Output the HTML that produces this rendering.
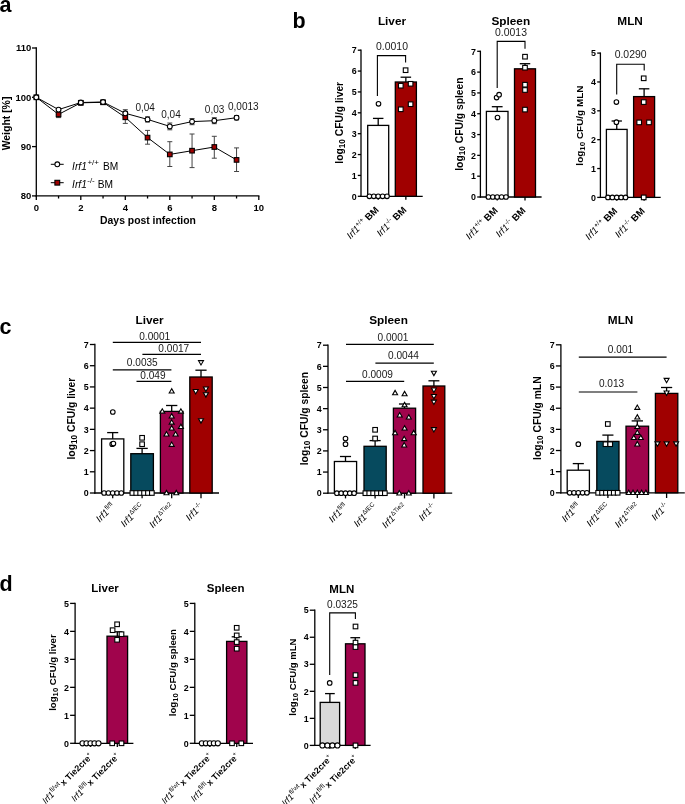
<!DOCTYPE html>
<html><head><meta charset="utf-8"><title>Figure</title>
<style>html,body{margin:0;padding:0;background:#fff;}body{width:685px;height:804px;overflow:hidden;}svg{display:block;will-change:transform;}</style>
</head><body>
<svg width="685" height="804" viewBox="0 0 685 804" font-family='"Liberation Sans", sans-serif'>
<rect width="685" height="804" fill="#fff"/>
<text x="-0.50" y="11.80" font-size="21.5" font-weight="bold" text-anchor="start" fill="#000" >a</text>
<text x="292.50" y="28.40" font-size="21.5" font-weight="bold" text-anchor="start" fill="#000" >b</text>
<text x="-0.50" y="334.10" font-size="21.5" font-weight="bold" text-anchor="start" fill="#000" >c</text>
<text x="-0.50" y="590.80" font-size="21.5" font-weight="bold" text-anchor="start" fill="#000" >d</text>
<line x1="36.30" y1="47.35" x2="36.30" y2="196.55" stroke="#000" stroke-width="1.3"/>
<line x1="35.65" y1="195.90" x2="259.45" y2="195.90" stroke="#000" stroke-width="1.3"/>
<line x1="32.00" y1="48.00" x2="36.30" y2="48.00" stroke="#000" stroke-width="1.3"/>
<text x="31.30" y="51.40" font-size="9.5" font-weight="bold" text-anchor="end" fill="#000" >110</text>
<line x1="32.00" y1="97.30" x2="36.30" y2="97.30" stroke="#000" stroke-width="1.3"/>
<text x="31.30" y="100.70" font-size="9.5" font-weight="bold" text-anchor="end" fill="#000" >100</text>
<line x1="32.00" y1="146.60" x2="36.30" y2="146.60" stroke="#000" stroke-width="1.3"/>
<text x="31.30" y="150.00" font-size="9.5" font-weight="bold" text-anchor="end" fill="#000" >90</text>
<line x1="32.00" y1="195.90" x2="36.30" y2="195.90" stroke="#000" stroke-width="1.3"/>
<text x="31.30" y="199.30" font-size="9.5" font-weight="bold" text-anchor="end" fill="#000" >80</text>
<line x1="36.30" y1="195.90" x2="36.30" y2="199.90" stroke="#000" stroke-width="1.3"/>
<text x="36.30" y="210.80" font-size="9.5" font-weight="bold" text-anchor="middle" fill="#000" >0</text>
<line x1="58.55" y1="195.90" x2="58.55" y2="198.50" stroke="#000" stroke-width="1.3"/>
<line x1="80.80" y1="195.90" x2="80.80" y2="199.90" stroke="#000" stroke-width="1.3"/>
<text x="80.80" y="210.80" font-size="9.5" font-weight="bold" text-anchor="middle" fill="#000" >2</text>
<line x1="103.05" y1="195.90" x2="103.05" y2="198.50" stroke="#000" stroke-width="1.3"/>
<line x1="125.30" y1="195.90" x2="125.30" y2="199.90" stroke="#000" stroke-width="1.3"/>
<text x="125.30" y="210.80" font-size="9.5" font-weight="bold" text-anchor="middle" fill="#000" >4</text>
<line x1="147.55" y1="195.90" x2="147.55" y2="198.50" stroke="#000" stroke-width="1.3"/>
<line x1="169.80" y1="195.90" x2="169.80" y2="199.90" stroke="#000" stroke-width="1.3"/>
<text x="169.80" y="210.80" font-size="9.5" font-weight="bold" text-anchor="middle" fill="#000" >6</text>
<line x1="192.05" y1="195.90" x2="192.05" y2="198.50" stroke="#000" stroke-width="1.3"/>
<line x1="214.30" y1="195.90" x2="214.30" y2="199.90" stroke="#000" stroke-width="1.3"/>
<text x="214.30" y="210.80" font-size="9.5" font-weight="bold" text-anchor="middle" fill="#000" >8</text>
<line x1="236.55" y1="195.90" x2="236.55" y2="198.50" stroke="#000" stroke-width="1.3"/>
<line x1="258.80" y1="195.90" x2="258.80" y2="199.90" stroke="#000" stroke-width="1.3"/>
<text x="258.80" y="210.80" font-size="9.5" font-weight="bold" text-anchor="middle" fill="#000" >10</text>
<text x="148.00" y="223.80" font-size="10.4" font-weight="bold" text-anchor="middle" fill="#000" >Days post infection</text>
<text transform="translate(10.3,123.5) rotate(-90)" font-size="10.45" font-weight="bold" text-anchor="middle">Weight [%]</text>
<line x1="58.55" y1="114.40" x2="58.55" y2="117.60" stroke="#444" stroke-width="1.0"/>
<line x1="56.05" y1="114.40" x2="61.05" y2="114.40" stroke="#444" stroke-width="1.0"/>
<line x1="56.05" y1="117.60" x2="61.05" y2="117.60" stroke="#444" stroke-width="1.0"/>
<line x1="80.80" y1="101.00" x2="80.80" y2="105.00" stroke="#444" stroke-width="1.0"/>
<line x1="78.30" y1="101.00" x2="83.30" y2="101.00" stroke="#444" stroke-width="1.0"/>
<line x1="78.30" y1="105.00" x2="83.30" y2="105.00" stroke="#444" stroke-width="1.0"/>
<line x1="103.05" y1="101.00" x2="103.05" y2="104.50" stroke="#444" stroke-width="1.0"/>
<line x1="100.55" y1="101.00" x2="105.55" y2="101.00" stroke="#444" stroke-width="1.0"/>
<line x1="100.55" y1="104.50" x2="105.55" y2="104.50" stroke="#444" stroke-width="1.0"/>
<line x1="125.30" y1="111.60" x2="125.30" y2="123.40" stroke="#444" stroke-width="1.0"/>
<line x1="122.80" y1="111.60" x2="127.80" y2="111.60" stroke="#444" stroke-width="1.0"/>
<line x1="122.80" y1="123.40" x2="127.80" y2="123.40" stroke="#444" stroke-width="1.0"/>
<line x1="147.55" y1="130.40" x2="147.55" y2="144.20" stroke="#444" stroke-width="1.0"/>
<line x1="145.05" y1="130.40" x2="150.05" y2="130.40" stroke="#444" stroke-width="1.0"/>
<line x1="145.05" y1="144.20" x2="150.05" y2="144.20" stroke="#444" stroke-width="1.0"/>
<line x1="169.80" y1="141.70" x2="169.80" y2="166.50" stroke="#444" stroke-width="1.0"/>
<line x1="167.30" y1="141.70" x2="172.30" y2="141.70" stroke="#444" stroke-width="1.0"/>
<line x1="167.30" y1="166.50" x2="172.30" y2="166.50" stroke="#444" stroke-width="1.0"/>
<line x1="192.05" y1="134.00" x2="192.05" y2="167.60" stroke="#444" stroke-width="1.0"/>
<line x1="189.55" y1="134.00" x2="194.55" y2="134.00" stroke="#444" stroke-width="1.0"/>
<line x1="189.55" y1="167.60" x2="194.55" y2="167.60" stroke="#444" stroke-width="1.0"/>
<line x1="214.30" y1="136.30" x2="214.30" y2="158.20" stroke="#444" stroke-width="1.0"/>
<line x1="211.80" y1="136.30" x2="216.80" y2="136.30" stroke="#444" stroke-width="1.0"/>
<line x1="211.80" y1="158.20" x2="216.80" y2="158.20" stroke="#444" stroke-width="1.0"/>
<line x1="236.55" y1="147.90" x2="236.55" y2="171.50" stroke="#444" stroke-width="1.0"/>
<line x1="234.05" y1="147.90" x2="239.05" y2="147.90" stroke="#444" stroke-width="1.0"/>
<line x1="234.05" y1="171.50" x2="239.05" y2="171.50" stroke="#444" stroke-width="1.0"/>
<line x1="58.55" y1="108.40" x2="58.55" y2="110.80" stroke="#444" stroke-width="1.0"/>
<line x1="56.05" y1="108.40" x2="61.05" y2="108.40" stroke="#444" stroke-width="1.0"/>
<line x1="56.05" y1="110.80" x2="61.05" y2="110.80" stroke="#444" stroke-width="1.0"/>
<line x1="80.80" y1="101.00" x2="80.80" y2="104.00" stroke="#444" stroke-width="1.0"/>
<line x1="78.30" y1="101.00" x2="83.30" y2="101.00" stroke="#444" stroke-width="1.0"/>
<line x1="78.30" y1="104.00" x2="83.30" y2="104.00" stroke="#444" stroke-width="1.0"/>
<line x1="103.05" y1="100.50" x2="103.05" y2="103.50" stroke="#444" stroke-width="1.0"/>
<line x1="100.55" y1="100.50" x2="105.55" y2="100.50" stroke="#444" stroke-width="1.0"/>
<line x1="100.55" y1="103.50" x2="105.55" y2="103.50" stroke="#444" stroke-width="1.0"/>
<line x1="125.30" y1="109.70" x2="125.30" y2="116.90" stroke="#444" stroke-width="1.0"/>
<line x1="122.80" y1="109.70" x2="127.80" y2="109.70" stroke="#444" stroke-width="1.0"/>
<line x1="122.80" y1="116.90" x2="127.80" y2="116.90" stroke="#444" stroke-width="1.0"/>
<line x1="147.55" y1="116.80" x2="147.55" y2="122.00" stroke="#444" stroke-width="1.0"/>
<line x1="145.05" y1="116.80" x2="150.05" y2="116.80" stroke="#444" stroke-width="1.0"/>
<line x1="145.05" y1="122.00" x2="150.05" y2="122.00" stroke="#444" stroke-width="1.0"/>
<line x1="169.80" y1="123.00" x2="169.80" y2="129.80" stroke="#444" stroke-width="1.0"/>
<line x1="167.30" y1="123.00" x2="172.30" y2="123.00" stroke="#444" stroke-width="1.0"/>
<line x1="167.30" y1="129.80" x2="172.30" y2="129.80" stroke="#444" stroke-width="1.0"/>
<line x1="192.05" y1="118.50" x2="192.05" y2="124.70" stroke="#444" stroke-width="1.0"/>
<line x1="189.55" y1="118.50" x2="194.55" y2="118.50" stroke="#444" stroke-width="1.0"/>
<line x1="189.55" y1="124.70" x2="194.55" y2="124.70" stroke="#444" stroke-width="1.0"/>
<line x1="214.30" y1="117.70" x2="214.30" y2="123.70" stroke="#444" stroke-width="1.0"/>
<line x1="211.80" y1="117.70" x2="216.80" y2="117.70" stroke="#444" stroke-width="1.0"/>
<line x1="211.80" y1="123.70" x2="216.80" y2="123.70" stroke="#444" stroke-width="1.0"/>
<line x1="236.55" y1="115.50" x2="236.55" y2="119.90" stroke="#444" stroke-width="1.0"/>
<line x1="234.05" y1="115.50" x2="239.05" y2="115.50" stroke="#444" stroke-width="1.0"/>
<line x1="234.05" y1="119.90" x2="239.05" y2="119.90" stroke="#444" stroke-width="1.0"/>
<polyline points="36.30,97.30 58.55,114.40 80.80,102.80 103.05,102.30 125.30,117.30 147.55,137.60 169.80,154.40 192.05,150.70 214.30,147.00 236.55,159.90" fill="none" stroke="#000" stroke-width="1.0"/>
<polyline points="36.30,97.30 58.55,109.60 80.80,102.50 103.05,102.00 125.30,113.30 147.55,119.40 169.80,126.40 192.05,121.60 214.30,120.70 236.55,117.70" fill="none" stroke="#000" stroke-width="1.0"/>
<rect x="34.00" y="95.00" width="4.6" height="4.6" fill="#a00000" stroke="#000" stroke-width="1.1"/>
<rect x="56.25" y="112.10" width="4.6" height="4.6" fill="#a00000" stroke="#000" stroke-width="1.1"/>
<rect x="78.50" y="100.50" width="4.6" height="4.6" fill="#a00000" stroke="#000" stroke-width="1.1"/>
<rect x="100.75" y="100.00" width="4.6" height="4.6" fill="#a00000" stroke="#000" stroke-width="1.1"/>
<rect x="123.00" y="115.00" width="4.6" height="4.6" fill="#a00000" stroke="#000" stroke-width="1.1"/>
<rect x="145.25" y="135.30" width="4.6" height="4.6" fill="#a00000" stroke="#000" stroke-width="1.1"/>
<rect x="167.50" y="152.10" width="4.6" height="4.6" fill="#a00000" stroke="#000" stroke-width="1.1"/>
<rect x="189.75" y="148.40" width="4.6" height="4.6" fill="#a00000" stroke="#000" stroke-width="1.1"/>
<rect x="212.00" y="144.70" width="4.6" height="4.6" fill="#a00000" stroke="#000" stroke-width="1.1"/>
<rect x="234.25" y="157.60" width="4.6" height="4.6" fill="#a00000" stroke="#000" stroke-width="1.1"/>
<circle cx="36.30" cy="97.30" r="2.4" fill="#fff" stroke="#000" stroke-width="1.1"/>
<circle cx="58.55" cy="109.60" r="2.4" fill="#fff" stroke="#000" stroke-width="1.1"/>
<circle cx="80.80" cy="102.50" r="2.4" fill="#fff" stroke="#000" stroke-width="1.1"/>
<circle cx="103.05" cy="102.00" r="2.4" fill="#fff" stroke="#000" stroke-width="1.1"/>
<circle cx="125.30" cy="113.30" r="2.4" fill="#fff" stroke="#000" stroke-width="1.1"/>
<circle cx="147.55" cy="119.40" r="2.4" fill="#fff" stroke="#000" stroke-width="1.1"/>
<circle cx="169.80" cy="126.40" r="2.4" fill="#fff" stroke="#000" stroke-width="1.1"/>
<circle cx="192.05" cy="121.60" r="2.4" fill="#fff" stroke="#000" stroke-width="1.1"/>
<circle cx="214.30" cy="120.70" r="2.4" fill="#fff" stroke="#000" stroke-width="1.1"/>
<circle cx="236.55" cy="117.70" r="2.4" fill="#fff" stroke="#000" stroke-width="1.1"/>
<text x="145.20" y="110.60" font-size="10.0" font-weight="normal" text-anchor="middle" fill="#181818" >0,04</text>
<text x="171.00" y="118.30" font-size="10.0" font-weight="normal" text-anchor="middle" fill="#181818" >0,04</text>
<text x="214.60" y="112.80" font-size="10.0" font-weight="normal" text-anchor="middle" fill="#181818" >0,03</text>
<text x="243.30" y="110.00" font-size="10.0" font-weight="normal" text-anchor="middle" fill="#181818" >0,0013</text>
<line x1="50.80" y1="164.30" x2="63.70" y2="164.30" stroke="#000" stroke-width="1.0"/>
<circle cx="57.30" cy="164.30" r="2.4" fill="#fff" stroke="#000" stroke-width="1.1"/>
<line x1="50.80" y1="182.70" x2="63.70" y2="182.70" stroke="#000" stroke-width="1.0"/>
<rect x="54.90" y="180.30" width="4.8" height="4.8" fill="#a00000" stroke="#000" stroke-width="1.1"/>
<text x="72.1" y="169.6" font-size="10.2" fill="#000"><tspan font-style="italic">Irf1</tspan><tspan font-size="8" dy="-4.3" dx="0.6">+/+</tspan><tspan dy="4.3" dx="1.1"> BM</tspan></text>
<text x="72.1" y="187.7" font-size="10.2" fill="#000"><tspan font-style="italic">Irf1</tspan><tspan font-size="8" dy="-4.3" dx="0.4">-/-</tspan><tspan dy="4.3" dx="0.2"> BM</tspan></text>
<line x1="361.00" y1="49.55" x2="361.00" y2="196.95" stroke="#000" stroke-width="1.3"/>
<line x1="357.80" y1="196.30" x2="361.00" y2="196.30" stroke="#000" stroke-width="1.3"/>
<text x="356.60" y="199.50" font-size="8.9" font-weight="bold" text-anchor="end" fill="#000" >0</text>
<line x1="357.80" y1="175.43" x2="361.00" y2="175.43" stroke="#000" stroke-width="1.3"/>
<text x="356.60" y="178.63" font-size="8.9" font-weight="bold" text-anchor="end" fill="#000" >1</text>
<line x1="357.80" y1="154.56" x2="361.00" y2="154.56" stroke="#000" stroke-width="1.3"/>
<text x="356.60" y="157.76" font-size="8.9" font-weight="bold" text-anchor="end" fill="#000" >2</text>
<line x1="357.80" y1="133.69" x2="361.00" y2="133.69" stroke="#000" stroke-width="1.3"/>
<text x="356.60" y="136.89" font-size="8.9" font-weight="bold" text-anchor="end" fill="#000" >3</text>
<line x1="357.80" y1="112.81" x2="361.00" y2="112.81" stroke="#000" stroke-width="1.3"/>
<text x="356.60" y="116.02" font-size="8.9" font-weight="bold" text-anchor="end" fill="#000" >4</text>
<line x1="357.80" y1="91.94" x2="361.00" y2="91.94" stroke="#000" stroke-width="1.3"/>
<text x="356.60" y="95.15" font-size="8.9" font-weight="bold" text-anchor="end" fill="#000" >5</text>
<line x1="357.80" y1="71.07" x2="361.00" y2="71.07" stroke="#000" stroke-width="1.3"/>
<text x="356.60" y="74.28" font-size="8.9" font-weight="bold" text-anchor="end" fill="#000" >6</text>
<line x1="357.80" y1="50.20" x2="361.00" y2="50.20" stroke="#000" stroke-width="1.3"/>
<text x="356.60" y="53.40" font-size="8.9" font-weight="bold" text-anchor="end" fill="#000" >7</text>
<line x1="360.35" y1="196.30" x2="422.70" y2="196.30" stroke="#000" stroke-width="1.3"/>
<line x1="378.20" y1="118.40" x2="378.20" y2="125.40" stroke="#000" stroke-width="1.3"/>
<line x1="372.95" y1="118.40" x2="383.45" y2="118.40" stroke="#000" stroke-width="1.3"/>
<rect x="367.70" y="125.40" width="21.00" height="70.90" fill="#fff" stroke="#000" stroke-width="1.3"/>
<line x1="378.20" y1="196.30" x2="378.20" y2="199.70" stroke="#000" stroke-width="1.3"/>
<line x1="405.85" y1="196.30" x2="405.85" y2="199.70" stroke="#000" stroke-width="1.3"/>
<line x1="405.85" y1="77.20" x2="405.85" y2="82.00" stroke="#000" stroke-width="1.3"/>
<line x1="400.58" y1="77.20" x2="411.12" y2="77.20" stroke="#000" stroke-width="1.3"/>
<rect x="395.30" y="82.00" width="21.10" height="114.30" fill="#a00000" stroke="#000" stroke-width="1.3"/>
<circle cx="378.50" cy="103.80" r="2.3" fill="#fff" stroke="#000" stroke-width="1.1"/>
<circle cx="369.40" cy="196.30" r="2.3" fill="#fff" stroke="#000" stroke-width="1.1"/>
<circle cx="373.80" cy="196.30" r="2.3" fill="#fff" stroke="#000" stroke-width="1.1"/>
<circle cx="378.20" cy="196.30" r="2.3" fill="#fff" stroke="#000" stroke-width="1.1"/>
<circle cx="382.60" cy="196.30" r="2.3" fill="#fff" stroke="#000" stroke-width="1.1"/>
<circle cx="387.00" cy="196.30" r="2.3" fill="#fff" stroke="#000" stroke-width="1.1"/>
<rect x="403.30" y="67.90" width="4.6" height="4.6" fill="#fff" stroke="#000" stroke-width="1.1"/>
<rect x="398.50" y="83.40" width="4.6" height="4.6" fill="#fff" stroke="#000" stroke-width="1.1"/>
<rect x="408.30" y="81.50" width="4.6" height="4.6" fill="#fff" stroke="#000" stroke-width="1.1"/>
<rect x="408.30" y="101.90" width="4.6" height="4.6" fill="#fff" stroke="#000" stroke-width="1.1"/>
<rect x="398.50" y="107.00" width="4.6" height="4.6" fill="#fff" stroke="#000" stroke-width="1.1"/>
<polyline points="377.40,95.90 377.40,55.60 405.60,55.60 405.60,62.60" fill="none" stroke="#000" stroke-width="1.1"/>
<text x="392.00" y="49.50" font-size="10.45" font-weight="normal" text-anchor="middle" fill="#181818" >0.0010</text>
<text x="392.00" y="24.80" font-size="11.8" font-weight="bold" text-anchor="middle" fill="#000" >Liver</text>
<text transform="translate(342.60,122.80) rotate(-90)" font-size="10.3" font-weight="bold" text-anchor="middle">log<tspan font-size="80%" dy="2.0">10</tspan><tspan dy="-2.0"> CFU/g liver</tspan></text>
<text transform="translate(379.40,210.50) rotate(-45)" font-size="9.6" text-anchor="end"><tspan font-style="italic">Irf1</tspan><tspan font-size="6.5" dy="-3.8">+/+</tspan><tspan dy="3.8" font-weight="bold"> BM</tspan></text>
<text transform="translate(407.05,210.50) rotate(-45)" font-size="9.6" text-anchor="end"><tspan font-style="italic">Irf1</tspan><tspan font-size="6.5" dy="-3.8">-/-</tspan><tspan dy="3.8" font-weight="bold"> BM</tspan></text>
<line x1="480.40" y1="50.65" x2="480.40" y2="197.65" stroke="#000" stroke-width="1.3"/>
<line x1="477.20" y1="197.00" x2="480.40" y2="197.00" stroke="#000" stroke-width="1.3"/>
<text x="476.00" y="200.20" font-size="8.9" font-weight="bold" text-anchor="end" fill="#000" >0</text>
<line x1="477.20" y1="176.19" x2="480.40" y2="176.19" stroke="#000" stroke-width="1.3"/>
<text x="476.00" y="179.39" font-size="8.9" font-weight="bold" text-anchor="end" fill="#000" >1</text>
<line x1="477.20" y1="155.37" x2="480.40" y2="155.37" stroke="#000" stroke-width="1.3"/>
<text x="476.00" y="158.58" font-size="8.9" font-weight="bold" text-anchor="end" fill="#000" >2</text>
<line x1="477.20" y1="134.56" x2="480.40" y2="134.56" stroke="#000" stroke-width="1.3"/>
<text x="476.00" y="137.76" font-size="8.9" font-weight="bold" text-anchor="end" fill="#000" >3</text>
<line x1="477.20" y1="113.74" x2="480.40" y2="113.74" stroke="#000" stroke-width="1.3"/>
<text x="476.00" y="116.95" font-size="8.9" font-weight="bold" text-anchor="end" fill="#000" >4</text>
<line x1="477.20" y1="92.93" x2="480.40" y2="92.93" stroke="#000" stroke-width="1.3"/>
<text x="476.00" y="96.13" font-size="8.9" font-weight="bold" text-anchor="end" fill="#000" >5</text>
<line x1="477.20" y1="72.11" x2="480.40" y2="72.11" stroke="#000" stroke-width="1.3"/>
<text x="476.00" y="75.32" font-size="8.9" font-weight="bold" text-anchor="end" fill="#000" >6</text>
<line x1="477.20" y1="51.30" x2="480.40" y2="51.30" stroke="#000" stroke-width="1.3"/>
<text x="476.00" y="54.50" font-size="8.9" font-weight="bold" text-anchor="end" fill="#000" >7</text>
<line x1="479.75" y1="197.00" x2="541.60" y2="197.00" stroke="#000" stroke-width="1.3"/>
<line x1="497.20" y1="106.70" x2="497.20" y2="111.40" stroke="#000" stroke-width="1.3"/>
<line x1="491.80" y1="106.70" x2="502.60" y2="106.70" stroke="#000" stroke-width="1.3"/>
<rect x="486.40" y="111.40" width="21.60" height="85.60" fill="#fff" stroke="#000" stroke-width="1.3"/>
<line x1="497.20" y1="197.00" x2="497.20" y2="200.40" stroke="#000" stroke-width="1.3"/>
<line x1="525.00" y1="197.00" x2="525.00" y2="200.40" stroke="#000" stroke-width="1.3"/>
<line x1="525.00" y1="63.70" x2="525.00" y2="68.80" stroke="#000" stroke-width="1.3"/>
<line x1="519.75" y1="63.70" x2="530.25" y2="63.70" stroke="#000" stroke-width="1.3"/>
<rect x="514.50" y="68.80" width="21.00" height="128.20" fill="#a00000" stroke="#000" stroke-width="1.3"/>
<circle cx="497.50" cy="117.50" r="2.3" fill="#fff" stroke="#000" stroke-width="1.1"/>
<circle cx="496.60" cy="97.60" r="2.3" fill="#fff" stroke="#000" stroke-width="1.1"/>
<circle cx="499.10" cy="94.70" r="2.3" fill="#fff" stroke="#000" stroke-width="1.1"/>
<circle cx="488.40" cy="197.00" r="2.3" fill="#fff" stroke="#000" stroke-width="1.1"/>
<circle cx="492.80" cy="197.00" r="2.3" fill="#fff" stroke="#000" stroke-width="1.1"/>
<circle cx="497.20" cy="197.00" r="2.3" fill="#fff" stroke="#000" stroke-width="1.1"/>
<circle cx="501.60" cy="197.00" r="2.3" fill="#fff" stroke="#000" stroke-width="1.1"/>
<circle cx="506.00" cy="197.00" r="2.3" fill="#fff" stroke="#000" stroke-width="1.1"/>
<rect x="522.70" y="54.40" width="4.6" height="4.6" fill="#fff" stroke="#000" stroke-width="1.1"/>
<rect x="522.70" y="65.40" width="4.6" height="4.6" fill="#fff" stroke="#000" stroke-width="1.1"/>
<rect x="522.70" y="82.40" width="4.6" height="4.6" fill="#fff" stroke="#000" stroke-width="1.1"/>
<rect x="522.70" y="87.70" width="4.6" height="4.6" fill="#fff" stroke="#000" stroke-width="1.1"/>
<rect x="522.70" y="107.30" width="4.6" height="4.6" fill="#fff" stroke="#000" stroke-width="1.1"/>
<polyline points="497.20,88.00 497.20,41.40 525.00,41.40 525.00,48.70" fill="none" stroke="#000" stroke-width="1.1"/>
<text x="511.00" y="36.00" font-size="10.45" font-weight="normal" text-anchor="middle" fill="#181818" >0.0013</text>
<text x="510.80" y="24.60" font-size="11.8" font-weight="bold" text-anchor="middle" fill="#000" >Spleen</text>
<text transform="translate(462.80,124.10) rotate(-90)" font-size="10.3" font-weight="bold" text-anchor="middle">log<tspan font-size="80%" dy="2.0">10</tspan><tspan dy="-2.0"> CFU/g spleen</tspan></text>
<text transform="translate(498.40,211.20) rotate(-45)" font-size="9.6" text-anchor="end"><tspan font-style="italic">Irf1</tspan><tspan font-size="6.5" dy="-3.8">+/+</tspan><tspan dy="3.8" font-weight="bold"> BM</tspan></text>
<text transform="translate(526.20,211.20) rotate(-45)" font-size="9.6" text-anchor="end"><tspan font-style="italic">Irf1</tspan><tspan font-size="6.5" dy="-3.8">-/-</tspan><tspan dy="3.8" font-weight="bold"> BM</tspan></text>
<line x1="600.40" y1="52.45" x2="600.40" y2="198.05" stroke="#000" stroke-width="1.3"/>
<line x1="597.20" y1="197.40" x2="600.40" y2="197.40" stroke="#000" stroke-width="1.3"/>
<text x="596.00" y="200.60" font-size="8.9" font-weight="bold" text-anchor="end" fill="#000" >0</text>
<line x1="597.20" y1="168.54" x2="600.40" y2="168.54" stroke="#000" stroke-width="1.3"/>
<text x="596.00" y="171.74" font-size="8.9" font-weight="bold" text-anchor="end" fill="#000" >1</text>
<line x1="597.20" y1="139.68" x2="600.40" y2="139.68" stroke="#000" stroke-width="1.3"/>
<text x="596.00" y="142.88" font-size="8.9" font-weight="bold" text-anchor="end" fill="#000" >2</text>
<line x1="597.20" y1="110.82" x2="600.40" y2="110.82" stroke="#000" stroke-width="1.3"/>
<text x="596.00" y="114.02" font-size="8.9" font-weight="bold" text-anchor="end" fill="#000" >3</text>
<line x1="597.20" y1="81.96" x2="600.40" y2="81.96" stroke="#000" stroke-width="1.3"/>
<text x="596.00" y="85.16" font-size="8.9" font-weight="bold" text-anchor="end" fill="#000" >4</text>
<line x1="597.20" y1="53.10" x2="600.40" y2="53.10" stroke="#000" stroke-width="1.3"/>
<text x="596.00" y="56.30" font-size="8.9" font-weight="bold" text-anchor="end" fill="#000" >5</text>
<line x1="599.75" y1="197.40" x2="660.70" y2="197.40" stroke="#000" stroke-width="1.3"/>
<line x1="616.75" y1="121.00" x2="616.75" y2="129.40" stroke="#000" stroke-width="1.3"/>
<line x1="611.58" y1="121.00" x2="621.92" y2="121.00" stroke="#000" stroke-width="1.3"/>
<rect x="606.40" y="129.40" width="20.70" height="68.00" fill="#fff" stroke="#000" stroke-width="1.3"/>
<line x1="616.75" y1="197.40" x2="616.75" y2="200.80" stroke="#000" stroke-width="1.3"/>
<line x1="644.10" y1="197.40" x2="644.10" y2="200.80" stroke="#000" stroke-width="1.3"/>
<line x1="644.10" y1="88.80" x2="644.10" y2="96.60" stroke="#000" stroke-width="1.3"/>
<line x1="638.85" y1="88.80" x2="649.35" y2="88.80" stroke="#000" stroke-width="1.3"/>
<rect x="633.60" y="96.60" width="21.00" height="100.80" fill="#a00000" stroke="#000" stroke-width="1.3"/>
<circle cx="616.40" cy="102.10" r="2.3" fill="#fff" stroke="#000" stroke-width="1.1"/>
<circle cx="616.40" cy="122.20" r="2.3" fill="#fff" stroke="#000" stroke-width="1.1"/>
<circle cx="607.95" cy="197.40" r="2.3" fill="#fff" stroke="#000" stroke-width="1.1"/>
<circle cx="612.35" cy="197.40" r="2.3" fill="#fff" stroke="#000" stroke-width="1.1"/>
<circle cx="616.75" cy="197.40" r="2.3" fill="#fff" stroke="#000" stroke-width="1.1"/>
<circle cx="621.15" cy="197.40" r="2.3" fill="#fff" stroke="#000" stroke-width="1.1"/>
<circle cx="625.55" cy="197.40" r="2.3" fill="#fff" stroke="#000" stroke-width="1.1"/>
<rect x="641.40" y="76.00" width="4.6" height="4.6" fill="#fff" stroke="#000" stroke-width="1.1"/>
<rect x="641.40" y="99.80" width="4.6" height="4.6" fill="#fff" stroke="#000" stroke-width="1.1"/>
<rect x="636.90" y="120.10" width="4.6" height="4.6" fill="#fff" stroke="#000" stroke-width="1.1"/>
<rect x="646.70" y="120.10" width="4.6" height="4.6" fill="#fff" stroke="#000" stroke-width="1.1"/>
<rect x="641.40" y="195.10" width="4.6" height="4.6" fill="#fff" stroke="#000" stroke-width="1.1"/>
<polyline points="616.70,94.40 616.70,64.30 644.20,64.30 644.20,70.60" fill="none" stroke="#000" stroke-width="1.1"/>
<text x="630.60" y="58.20" font-size="10.45" font-weight="normal" text-anchor="middle" fill="#181818" >0.0290</text>
<text x="630.10" y="24.90" font-size="11.8" font-weight="bold" text-anchor="middle" fill="#000" >MLN</text>
<text transform="translate(583.20,125.60) rotate(-90)" font-size="9.95" font-weight="bold" text-anchor="middle">log<tspan font-size="80%" dy="2.0">10</tspan><tspan dy="-2.0"> CFU/g MLN</tspan></text>
<text transform="translate(617.95,211.60) rotate(-45)" font-size="9.6" text-anchor="end"><tspan font-style="italic">Irf1</tspan><tspan font-size="6.5" dy="-3.8">+/+</tspan><tspan dy="3.8" font-weight="bold"> BM</tspan></text>
<text transform="translate(645.30,211.60) rotate(-45)" font-size="9.6" text-anchor="end"><tspan font-style="italic">Irf1</tspan><tspan font-size="6.5" dy="-3.8">-/-</tspan><tspan dy="3.8" font-weight="bold"> BM</tspan></text>
<line x1="94.90" y1="343.85" x2="94.90" y2="493.65" stroke="#000" stroke-width="1.3"/>
<line x1="89.90" y1="493.00" x2="94.90" y2="493.00" stroke="#000" stroke-width="1.3"/>
<text x="88.70" y="496.20" font-size="8.9" font-weight="bold" text-anchor="end" fill="#000" >0</text>
<line x1="89.90" y1="471.79" x2="94.90" y2="471.79" stroke="#000" stroke-width="1.3"/>
<text x="88.70" y="474.99" font-size="8.9" font-weight="bold" text-anchor="end" fill="#000" >1</text>
<line x1="89.90" y1="450.57" x2="94.90" y2="450.57" stroke="#000" stroke-width="1.3"/>
<text x="88.70" y="453.78" font-size="8.9" font-weight="bold" text-anchor="end" fill="#000" >2</text>
<line x1="89.90" y1="429.36" x2="94.90" y2="429.36" stroke="#000" stroke-width="1.3"/>
<text x="88.70" y="432.56" font-size="8.9" font-weight="bold" text-anchor="end" fill="#000" >3</text>
<line x1="89.90" y1="408.14" x2="94.90" y2="408.14" stroke="#000" stroke-width="1.3"/>
<text x="88.70" y="411.35" font-size="8.9" font-weight="bold" text-anchor="end" fill="#000" >4</text>
<line x1="89.90" y1="386.93" x2="94.90" y2="386.93" stroke="#000" stroke-width="1.3"/>
<text x="88.70" y="390.13" font-size="8.9" font-weight="bold" text-anchor="end" fill="#000" >5</text>
<line x1="89.90" y1="365.71" x2="94.90" y2="365.71" stroke="#000" stroke-width="1.3"/>
<text x="88.70" y="368.92" font-size="8.9" font-weight="bold" text-anchor="end" fill="#000" >6</text>
<line x1="89.90" y1="344.50" x2="94.90" y2="344.50" stroke="#000" stroke-width="1.3"/>
<text x="88.70" y="347.70" font-size="8.9" font-weight="bold" text-anchor="end" fill="#000" >7</text>
<line x1="94.25" y1="493.00" x2="219.00" y2="493.00" stroke="#000" stroke-width="1.3"/>
<line x1="112.70" y1="493.00" x2="112.70" y2="498.20" stroke="#000" stroke-width="1.3"/>
<line x1="142.10" y1="493.00" x2="142.10" y2="498.20" stroke="#000" stroke-width="1.3"/>
<line x1="171.70" y1="493.00" x2="171.70" y2="498.20" stroke="#000" stroke-width="1.3"/>
<line x1="201.00" y1="493.00" x2="201.00" y2="498.20" stroke="#000" stroke-width="1.3"/>
<line x1="112.70" y1="432.60" x2="112.70" y2="438.90" stroke="#000" stroke-width="1.3"/>
<line x1="107.15" y1="432.60" x2="118.25" y2="432.60" stroke="#000" stroke-width="1.3"/>
<rect x="101.60" y="438.90" width="22.20" height="54.10" fill="#fff" stroke="#000" stroke-width="1.3"/>
<line x1="142.10" y1="448.40" x2="142.10" y2="453.70" stroke="#000" stroke-width="1.3"/>
<line x1="136.45" y1="448.40" x2="147.75" y2="448.40" stroke="#000" stroke-width="1.3"/>
<rect x="130.80" y="453.70" width="22.60" height="39.30" fill="#064a5e" stroke="#000" stroke-width="1.3"/>
<line x1="171.70" y1="405.50" x2="171.70" y2="411.40" stroke="#000" stroke-width="1.3"/>
<line x1="166.05" y1="405.50" x2="177.35" y2="405.50" stroke="#000" stroke-width="1.3"/>
<rect x="160.40" y="411.40" width="22.60" height="81.60" fill="#a0044c" stroke="#000" stroke-width="1.3"/>
<line x1="201.00" y1="370.20" x2="201.00" y2="377.00" stroke="#000" stroke-width="1.3"/>
<line x1="195.40" y1="370.20" x2="206.60" y2="370.20" stroke="#000" stroke-width="1.3"/>
<rect x="189.80" y="377.00" width="22.40" height="116.00" fill="#a00000" stroke="#000" stroke-width="1.3"/>
<circle cx="112.80" cy="412.00" r="2.3" fill="#fff" stroke="#000" stroke-width="1.1"/>
<circle cx="112.20" cy="444.20" r="2.3" fill="#fff" stroke="#000" stroke-width="1.1"/>
<circle cx="113.40" cy="443.50" r="2.3" fill="#fff" stroke="#000" stroke-width="1.1"/>
<circle cx="104.10" cy="493.00" r="2.3" fill="#fff" stroke="#000" stroke-width="1.1"/>
<circle cx="108.40" cy="493.00" r="2.3" fill="#fff" stroke="#000" stroke-width="1.1"/>
<circle cx="112.70" cy="493.00" r="2.3" fill="#fff" stroke="#000" stroke-width="1.1"/>
<circle cx="117.00" cy="493.00" r="2.3" fill="#fff" stroke="#000" stroke-width="1.1"/>
<circle cx="121.30" cy="493.00" r="2.3" fill="#fff" stroke="#000" stroke-width="1.1"/>
<rect x="139.80" y="435.50" width="4.6" height="4.6" fill="#fff" stroke="#000" stroke-width="1.1"/>
<rect x="139.80" y="441.90" width="4.6" height="4.6" fill="#fff" stroke="#000" stroke-width="1.1"/>
<rect x="130.05" y="490.70" width="4.6" height="4.6" fill="#fff" stroke="#000" stroke-width="1.1"/>
<rect x="133.95" y="490.70" width="4.6" height="4.6" fill="#fff" stroke="#000" stroke-width="1.1"/>
<rect x="137.85" y="490.70" width="4.6" height="4.6" fill="#fff" stroke="#000" stroke-width="1.1"/>
<rect x="141.75" y="490.70" width="4.6" height="4.6" fill="#fff" stroke="#000" stroke-width="1.1"/>
<rect x="145.65" y="490.70" width="4.6" height="4.6" fill="#fff" stroke="#000" stroke-width="1.1"/>
<rect x="149.55" y="490.70" width="4.6" height="4.6" fill="#fff" stroke="#000" stroke-width="1.1"/>
<polygon points="171.70,388.69 169.20,393.04 174.20,393.04" fill="#fff" stroke="#000" stroke-width="1.1" stroke-linejoin="miter"/>
<polygon points="162.30,408.79 159.80,413.14 164.80,413.14" fill="#fff" stroke="#000" stroke-width="1.1" stroke-linejoin="miter"/>
<polygon points="180.90,408.79 178.40,413.14 183.40,413.14" fill="#fff" stroke="#000" stroke-width="1.1" stroke-linejoin="miter"/>
<polygon points="171.70,413.69 169.20,418.04 174.20,418.04" fill="#fff" stroke="#000" stroke-width="1.1" stroke-linejoin="miter"/>
<polygon points="171.70,419.79 169.20,424.14 174.20,424.14" fill="#fff" stroke="#000" stroke-width="1.1" stroke-linejoin="miter"/>
<polygon points="171.70,425.69 169.20,430.04 174.20,430.04" fill="#fff" stroke="#000" stroke-width="1.1" stroke-linejoin="miter"/>
<polygon points="180.90,424.19 178.40,428.54 183.40,428.54" fill="#fff" stroke="#000" stroke-width="1.1" stroke-linejoin="miter"/>
<polygon points="166.50,431.59 164.00,435.94 169.00,435.94" fill="#fff" stroke="#000" stroke-width="1.1" stroke-linejoin="miter"/>
<polygon points="175.60,431.59 173.10,435.94 178.10,435.94" fill="#fff" stroke="#000" stroke-width="1.1" stroke-linejoin="miter"/>
<polygon points="171.70,441.99 169.20,446.34 174.20,446.34" fill="#fff" stroke="#000" stroke-width="1.1" stroke-linejoin="miter"/>
<polygon points="166.50,490.39 164.00,494.74 169.00,494.74" fill="#fff" stroke="#000" stroke-width="1.1" stroke-linejoin="miter"/>
<polygon points="176.30,490.39 173.80,494.74 178.80,494.74" fill="#fff" stroke="#000" stroke-width="1.1" stroke-linejoin="miter"/>
<polygon points="201.00,365.01 198.50,360.66 203.50,360.66" fill="#fff" stroke="#000" stroke-width="1.1" stroke-linejoin="miter"/>
<polygon points="195.70,393.91 193.20,389.56 198.20,389.56" fill="#fff" stroke="#000" stroke-width="1.1" stroke-linejoin="miter"/>
<polygon points="205.90,391.41 203.40,387.06 208.40,387.06" fill="#fff" stroke="#000" stroke-width="1.1" stroke-linejoin="miter"/>
<polygon points="205.90,397.11 203.40,392.76 208.40,392.76" fill="#fff" stroke="#000" stroke-width="1.1" stroke-linejoin="miter"/>
<polygon points="201.00,423.11 198.50,418.76 203.50,418.76" fill="#fff" stroke="#000" stroke-width="1.1" stroke-linejoin="miter"/>
<line x1="112.80" y1="342.30" x2="201.00" y2="342.30" stroke="#000" stroke-width="1.2"/>
<text x="154.70" y="339.50" font-size="10.1" font-weight="normal" text-anchor="middle" fill="#181818" >0.0001</text>
<line x1="142.40" y1="354.30" x2="201.00" y2="354.30" stroke="#000" stroke-width="1.2"/>
<text x="173.80" y="352.20" font-size="10.1" font-weight="normal" text-anchor="middle" fill="#181818" >0.0017</text>
<line x1="112.80" y1="369.80" x2="171.40" y2="369.80" stroke="#000" stroke-width="1.2"/>
<text x="142.30" y="366.00" font-size="10.1" font-weight="normal" text-anchor="middle" fill="#181818" >0.0035</text>
<line x1="136.50" y1="381.40" x2="171.40" y2="381.40" stroke="#000" stroke-width="1.2"/>
<text x="152.90" y="379.30" font-size="10.1" font-weight="normal" text-anchor="middle" fill="#181818" >0.049</text>
<text x="149.60" y="323.80" font-size="11.8" font-weight="bold" text-anchor="middle" fill="#000" >Liver</text>
<text transform="translate(75.40,418.60) rotate(-90)" font-size="10.3" font-weight="bold" text-anchor="middle">log<tspan font-size="80%" dy="2.0">10</tspan><tspan dy="-2.0"> CFU/g liver</tspan></text>
<text transform="translate(115.30,507.20) rotate(-45)" font-size="9.6" text-anchor="end"><tspan font-style="italic">Irf1</tspan><tspan font-size="6.3" dy="-3.8">fl/fl</tspan></text>
<text transform="translate(144.70,507.20) rotate(-45)" font-size="9.6" text-anchor="end"><tspan font-style="italic">Irf1</tspan><tspan font-size="6.3" dy="-3.8">&#916;IEC</tspan></text>
<text transform="translate(174.30,507.20) rotate(-45)" font-size="9.6" text-anchor="end"><tspan font-style="italic">Irf1</tspan><tspan font-size="6.3" dy="-3.8">&#916;Tie2</tspan></text>
<text transform="translate(203.60,507.20) rotate(-45)" font-size="9.6" text-anchor="end"><tspan font-style="italic">Irf1</tspan><tspan font-size="6.3" dy="-3.8">-/-</tspan></text>
<line x1="328.00" y1="344.55" x2="328.00" y2="493.85" stroke="#000" stroke-width="1.3"/>
<line x1="323.00" y1="493.20" x2="328.00" y2="493.20" stroke="#000" stroke-width="1.3"/>
<text x="321.80" y="496.40" font-size="8.9" font-weight="bold" text-anchor="end" fill="#000" >0</text>
<line x1="323.00" y1="472.06" x2="328.00" y2="472.06" stroke="#000" stroke-width="1.3"/>
<text x="321.80" y="475.26" font-size="8.9" font-weight="bold" text-anchor="end" fill="#000" >1</text>
<line x1="323.00" y1="450.91" x2="328.00" y2="450.91" stroke="#000" stroke-width="1.3"/>
<text x="321.80" y="454.12" font-size="8.9" font-weight="bold" text-anchor="end" fill="#000" >2</text>
<line x1="323.00" y1="429.77" x2="328.00" y2="429.77" stroke="#000" stroke-width="1.3"/>
<text x="321.80" y="432.98" font-size="8.9" font-weight="bold" text-anchor="end" fill="#000" >3</text>
<line x1="323.00" y1="408.63" x2="328.00" y2="408.63" stroke="#000" stroke-width="1.3"/>
<text x="321.80" y="411.83" font-size="8.9" font-weight="bold" text-anchor="end" fill="#000" >4</text>
<line x1="323.00" y1="387.49" x2="328.00" y2="387.49" stroke="#000" stroke-width="1.3"/>
<text x="321.80" y="390.69" font-size="8.9" font-weight="bold" text-anchor="end" fill="#000" >5</text>
<line x1="323.00" y1="366.34" x2="328.00" y2="366.34" stroke="#000" stroke-width="1.3"/>
<text x="321.80" y="369.55" font-size="8.9" font-weight="bold" text-anchor="end" fill="#000" >6</text>
<line x1="323.00" y1="345.20" x2="328.00" y2="345.20" stroke="#000" stroke-width="1.3"/>
<text x="321.80" y="348.40" font-size="8.9" font-weight="bold" text-anchor="end" fill="#000" >7</text>
<line x1="327.35" y1="493.20" x2="452.20" y2="493.20" stroke="#000" stroke-width="1.3"/>
<line x1="345.50" y1="493.20" x2="345.50" y2="498.40" stroke="#000" stroke-width="1.3"/>
<line x1="375.10" y1="493.20" x2="375.10" y2="498.40" stroke="#000" stroke-width="1.3"/>
<line x1="404.50" y1="493.20" x2="404.50" y2="498.40" stroke="#000" stroke-width="1.3"/>
<line x1="433.90" y1="493.20" x2="433.90" y2="498.40" stroke="#000" stroke-width="1.3"/>
<line x1="345.50" y1="456.50" x2="345.50" y2="461.50" stroke="#000" stroke-width="1.3"/>
<line x1="339.95" y1="456.50" x2="351.05" y2="456.50" stroke="#000" stroke-width="1.3"/>
<rect x="334.40" y="461.50" width="22.20" height="31.70" fill="#fff" stroke="#000" stroke-width="1.3"/>
<line x1="375.10" y1="440.60" x2="375.10" y2="446.30" stroke="#000" stroke-width="1.3"/>
<line x1="369.55" y1="440.60" x2="380.65" y2="440.60" stroke="#000" stroke-width="1.3"/>
<rect x="364.00" y="446.30" width="22.20" height="46.90" fill="#064a5e" stroke="#000" stroke-width="1.3"/>
<line x1="404.50" y1="404.00" x2="404.50" y2="408.20" stroke="#000" stroke-width="1.3"/>
<line x1="398.95" y1="404.00" x2="410.05" y2="404.00" stroke="#000" stroke-width="1.3"/>
<rect x="393.40" y="408.20" width="22.20" height="85.00" fill="#a0044c" stroke="#000" stroke-width="1.3"/>
<line x1="433.90" y1="380.80" x2="433.90" y2="386.00" stroke="#000" stroke-width="1.3"/>
<line x1="428.45" y1="380.80" x2="439.35" y2="380.80" stroke="#000" stroke-width="1.3"/>
<rect x="423.00" y="386.00" width="21.80" height="107.20" fill="#a00000" stroke="#000" stroke-width="1.3"/>
<circle cx="345.50" cy="438.50" r="2.3" fill="#fff" stroke="#000" stroke-width="1.1"/>
<circle cx="345.50" cy="444.20" r="2.3" fill="#fff" stroke="#000" stroke-width="1.1"/>
<circle cx="336.90" cy="493.20" r="2.3" fill="#fff" stroke="#000" stroke-width="1.1"/>
<circle cx="341.20" cy="493.20" r="2.3" fill="#fff" stroke="#000" stroke-width="1.1"/>
<circle cx="345.50" cy="493.20" r="2.3" fill="#fff" stroke="#000" stroke-width="1.1"/>
<circle cx="349.80" cy="493.20" r="2.3" fill="#fff" stroke="#000" stroke-width="1.1"/>
<circle cx="354.10" cy="493.20" r="2.3" fill="#fff" stroke="#000" stroke-width="1.1"/>
<rect x="372.80" y="427.50" width="4.6" height="4.6" fill="#fff" stroke="#000" stroke-width="1.1"/>
<rect x="372.80" y="436.20" width="4.6" height="4.6" fill="#fff" stroke="#000" stroke-width="1.1"/>
<rect x="363.05" y="490.90" width="4.6" height="4.6" fill="#fff" stroke="#000" stroke-width="1.1"/>
<rect x="366.95" y="490.90" width="4.6" height="4.6" fill="#fff" stroke="#000" stroke-width="1.1"/>
<rect x="370.85" y="490.90" width="4.6" height="4.6" fill="#fff" stroke="#000" stroke-width="1.1"/>
<rect x="374.75" y="490.90" width="4.6" height="4.6" fill="#fff" stroke="#000" stroke-width="1.1"/>
<rect x="378.65" y="490.90" width="4.6" height="4.6" fill="#fff" stroke="#000" stroke-width="1.1"/>
<rect x="382.55" y="490.90" width="4.6" height="4.6" fill="#fff" stroke="#000" stroke-width="1.1"/>
<polygon points="395.10,390.39 392.60,394.74 397.60,394.74" fill="#fff" stroke="#000" stroke-width="1.1" stroke-linejoin="miter"/>
<polygon points="404.60,391.39 402.10,395.74 407.10,395.74" fill="#fff" stroke="#000" stroke-width="1.1" stroke-linejoin="miter"/>
<polygon points="404.60,402.39 402.10,406.74 407.10,406.74" fill="#fff" stroke="#000" stroke-width="1.1" stroke-linejoin="miter"/>
<polygon points="399.70,412.59 397.20,416.94 402.20,416.94" fill="#fff" stroke="#000" stroke-width="1.1" stroke-linejoin="miter"/>
<polygon points="408.80,414.69 406.30,419.04 411.30,419.04" fill="#fff" stroke="#000" stroke-width="1.1" stroke-linejoin="miter"/>
<polygon points="404.60,425.69 402.10,430.04 407.10,430.04" fill="#fff" stroke="#000" stroke-width="1.1" stroke-linejoin="miter"/>
<polygon points="395.10,430.39 392.60,434.74 397.60,434.74" fill="#fff" stroke="#000" stroke-width="1.1" stroke-linejoin="miter"/>
<polygon points="413.70,430.39 411.20,434.74 416.20,434.74" fill="#fff" stroke="#000" stroke-width="1.1" stroke-linejoin="miter"/>
<polygon points="404.20,436.29 401.70,440.64 406.70,440.64" fill="#fff" stroke="#000" stroke-width="1.1" stroke-linejoin="miter"/>
<polygon points="404.20,442.59 401.70,446.94 406.70,446.94" fill="#fff" stroke="#000" stroke-width="1.1" stroke-linejoin="miter"/>
<polygon points="399.30,490.59 396.80,494.94 401.80,494.94" fill="#fff" stroke="#000" stroke-width="1.1" stroke-linejoin="miter"/>
<polygon points="408.80,490.59 406.30,494.94 411.30,494.94" fill="#fff" stroke="#000" stroke-width="1.1" stroke-linejoin="miter"/>
<polygon points="433.90,375.61 431.40,371.26 436.40,371.26" fill="#fff" stroke="#000" stroke-width="1.1" stroke-linejoin="miter"/>
<polygon points="433.90,392.41 431.40,388.06 436.40,388.06" fill="#fff" stroke="#000" stroke-width="1.1" stroke-linejoin="miter"/>
<polygon points="433.90,398.81 431.40,394.46 436.40,394.46" fill="#fff" stroke="#000" stroke-width="1.1" stroke-linejoin="miter"/>
<polygon points="433.90,404.51 431.40,400.16 436.40,400.16" fill="#fff" stroke="#000" stroke-width="1.1" stroke-linejoin="miter"/>
<polygon points="433.90,432.01 431.40,427.66 436.40,427.66" fill="#fff" stroke="#000" stroke-width="1.1" stroke-linejoin="miter"/>
<line x1="346.00" y1="344.40" x2="433.80" y2="344.40" stroke="#000" stroke-width="1.2"/>
<text x="393.00" y="340.90" font-size="10.1" font-weight="normal" text-anchor="middle" fill="#181818" >0.0001</text>
<line x1="375.40" y1="363.20" x2="433.80" y2="363.20" stroke="#000" stroke-width="1.2"/>
<text x="403.50" y="358.90" font-size="10.1" font-weight="normal" text-anchor="middle" fill="#181818" >0.0044</text>
<line x1="346.00" y1="381.40" x2="404.20" y2="381.40" stroke="#000" stroke-width="1.2"/>
<text x="377.50" y="377.50" font-size="10.1" font-weight="normal" text-anchor="middle" fill="#181818" >0.0009</text>
<text x="388.50" y="323.80" font-size="11.8" font-weight="bold" text-anchor="middle" fill="#000" >Spleen</text>
<text transform="translate(308.40,418.60) rotate(-90)" font-size="10.3" font-weight="bold" text-anchor="middle">log<tspan font-size="80%" dy="2.0">10</tspan><tspan dy="-2.0"> CFU/g spleen</tspan></text>
<text transform="translate(348.10,507.40) rotate(-45)" font-size="9.6" text-anchor="end"><tspan font-style="italic">Irf1</tspan><tspan font-size="6.3" dy="-3.8">fl/fl</tspan></text>
<text transform="translate(377.70,507.40) rotate(-45)" font-size="9.6" text-anchor="end"><tspan font-style="italic">Irf1</tspan><tspan font-size="6.3" dy="-3.8">&#916;IEC</tspan></text>
<text transform="translate(407.10,507.40) rotate(-45)" font-size="9.6" text-anchor="end"><tspan font-style="italic">Irf1</tspan><tspan font-size="6.3" dy="-3.8">&#916;Tie2</tspan></text>
<text transform="translate(436.50,507.40) rotate(-45)" font-size="9.6" text-anchor="end"><tspan font-style="italic">Irf1</tspan><tspan font-size="6.3" dy="-3.8">-/-</tspan></text>
<line x1="560.90" y1="344.15" x2="560.90" y2="493.45" stroke="#000" stroke-width="1.3"/>
<line x1="555.90" y1="492.80" x2="560.90" y2="492.80" stroke="#000" stroke-width="1.3"/>
<text x="554.70" y="496.00" font-size="8.9" font-weight="bold" text-anchor="end" fill="#000" >0</text>
<line x1="555.90" y1="471.66" x2="560.90" y2="471.66" stroke="#000" stroke-width="1.3"/>
<text x="554.70" y="474.86" font-size="8.9" font-weight="bold" text-anchor="end" fill="#000" >1</text>
<line x1="555.90" y1="450.51" x2="560.90" y2="450.51" stroke="#000" stroke-width="1.3"/>
<text x="554.70" y="453.72" font-size="8.9" font-weight="bold" text-anchor="end" fill="#000" >2</text>
<line x1="555.90" y1="429.37" x2="560.90" y2="429.37" stroke="#000" stroke-width="1.3"/>
<text x="554.70" y="432.58" font-size="8.9" font-weight="bold" text-anchor="end" fill="#000" >3</text>
<line x1="555.90" y1="408.23" x2="560.90" y2="408.23" stroke="#000" stroke-width="1.3"/>
<text x="554.70" y="411.43" font-size="8.9" font-weight="bold" text-anchor="end" fill="#000" >4</text>
<line x1="555.90" y1="387.09" x2="560.90" y2="387.09" stroke="#000" stroke-width="1.3"/>
<text x="554.70" y="390.29" font-size="8.9" font-weight="bold" text-anchor="end" fill="#000" >5</text>
<line x1="555.90" y1="365.94" x2="560.90" y2="365.94" stroke="#000" stroke-width="1.3"/>
<text x="554.70" y="369.15" font-size="8.9" font-weight="bold" text-anchor="end" fill="#000" >6</text>
<line x1="555.90" y1="344.80" x2="560.90" y2="344.80" stroke="#000" stroke-width="1.3"/>
<text x="554.70" y="348.00" font-size="8.9" font-weight="bold" text-anchor="end" fill="#000" >7</text>
<line x1="560.25" y1="492.80" x2="684.80" y2="492.80" stroke="#000" stroke-width="1.3"/>
<line x1="578.30" y1="492.80" x2="578.30" y2="498.00" stroke="#000" stroke-width="1.3"/>
<line x1="607.90" y1="492.80" x2="607.90" y2="498.00" stroke="#000" stroke-width="1.3"/>
<line x1="637.30" y1="492.80" x2="637.30" y2="498.00" stroke="#000" stroke-width="1.3"/>
<line x1="666.60" y1="492.80" x2="666.60" y2="498.00" stroke="#000" stroke-width="1.3"/>
<line x1="578.30" y1="463.60" x2="578.30" y2="470.20" stroke="#000" stroke-width="1.3"/>
<line x1="572.75" y1="463.60" x2="583.85" y2="463.60" stroke="#000" stroke-width="1.3"/>
<rect x="567.20" y="470.20" width="22.20" height="22.60" fill="#fff" stroke="#000" stroke-width="1.3"/>
<line x1="607.90" y1="435.10" x2="607.90" y2="441.40" stroke="#000" stroke-width="1.3"/>
<line x1="602.35" y1="435.10" x2="613.45" y2="435.10" stroke="#000" stroke-width="1.3"/>
<rect x="596.80" y="441.40" width="22.20" height="51.40" fill="#064a5e" stroke="#000" stroke-width="1.3"/>
<line x1="637.30" y1="420.90" x2="637.30" y2="426.20" stroke="#000" stroke-width="1.3"/>
<line x1="631.65" y1="420.90" x2="642.95" y2="420.90" stroke="#000" stroke-width="1.3"/>
<rect x="626.00" y="426.20" width="22.60" height="66.60" fill="#a0044c" stroke="#000" stroke-width="1.3"/>
<line x1="666.60" y1="387.50" x2="666.60" y2="393.40" stroke="#000" stroke-width="1.3"/>
<line x1="661.00" y1="387.50" x2="672.20" y2="387.50" stroke="#000" stroke-width="1.3"/>
<rect x="655.40" y="393.40" width="22.40" height="99.40" fill="#a00000" stroke="#000" stroke-width="1.3"/>
<circle cx="578.30" cy="444.20" r="2.3" fill="#fff" stroke="#000" stroke-width="1.1"/>
<circle cx="569.70" cy="492.80" r="2.3" fill="#fff" stroke="#000" stroke-width="1.1"/>
<circle cx="574.00" cy="492.80" r="2.3" fill="#fff" stroke="#000" stroke-width="1.1"/>
<circle cx="578.30" cy="492.80" r="2.3" fill="#fff" stroke="#000" stroke-width="1.1"/>
<circle cx="582.60" cy="492.80" r="2.3" fill="#fff" stroke="#000" stroke-width="1.1"/>
<circle cx="586.90" cy="492.80" r="2.3" fill="#fff" stroke="#000" stroke-width="1.1"/>
<rect x="605.50" y="421.70" width="4.6" height="4.6" fill="#fff" stroke="#000" stroke-width="1.1"/>
<rect x="603.20" y="441.90" width="4.6" height="4.6" fill="#fff" stroke="#000" stroke-width="1.1"/>
<rect x="607.90" y="441.90" width="4.6" height="4.6" fill="#fff" stroke="#000" stroke-width="1.1"/>
<rect x="595.85" y="490.50" width="4.6" height="4.6" fill="#fff" stroke="#000" stroke-width="1.1"/>
<rect x="599.75" y="490.50" width="4.6" height="4.6" fill="#fff" stroke="#000" stroke-width="1.1"/>
<rect x="603.65" y="490.50" width="4.6" height="4.6" fill="#fff" stroke="#000" stroke-width="1.1"/>
<rect x="607.55" y="490.50" width="4.6" height="4.6" fill="#fff" stroke="#000" stroke-width="1.1"/>
<rect x="611.45" y="490.50" width="4.6" height="4.6" fill="#fff" stroke="#000" stroke-width="1.1"/>
<rect x="615.35" y="490.50" width="4.6" height="4.6" fill="#fff" stroke="#000" stroke-width="1.1"/>
<polygon points="637.30,404.99 634.80,409.34 639.80,409.34" fill="#fff" stroke="#000" stroke-width="1.1" stroke-linejoin="miter"/>
<polygon points="637.30,414.69 634.80,419.04 639.80,419.04" fill="#fff" stroke="#000" stroke-width="1.1" stroke-linejoin="miter"/>
<polygon points="637.30,424.19 634.80,428.54 639.80,428.54" fill="#fff" stroke="#000" stroke-width="1.1" stroke-linejoin="miter"/>
<polygon points="637.30,429.99 634.80,434.34 639.80,434.34" fill="#fff" stroke="#000" stroke-width="1.1" stroke-linejoin="miter"/>
<polygon points="633.80,435.19 631.30,439.54 636.30,439.54" fill="#fff" stroke="#000" stroke-width="1.1" stroke-linejoin="miter"/>
<polygon points="640.80,435.19 638.30,439.54 643.30,439.54" fill="#fff" stroke="#000" stroke-width="1.1" stroke-linejoin="miter"/>
<polygon points="637.30,441.59 634.80,445.94 639.80,445.94" fill="#fff" stroke="#000" stroke-width="1.1" stroke-linejoin="miter"/>
<polygon points="628.70,490.19 626.20,494.54 631.20,494.54" fill="#fff" stroke="#000" stroke-width="1.1" stroke-linejoin="miter"/>
<polygon points="633.00,490.19 630.50,494.54 635.50,494.54" fill="#fff" stroke="#000" stroke-width="1.1" stroke-linejoin="miter"/>
<polygon points="637.30,490.19 634.80,494.54 639.80,494.54" fill="#fff" stroke="#000" stroke-width="1.1" stroke-linejoin="miter"/>
<polygon points="641.60,490.19 639.10,494.54 644.10,494.54" fill="#fff" stroke="#000" stroke-width="1.1" stroke-linejoin="miter"/>
<polygon points="645.90,490.19 643.40,494.54 648.40,494.54" fill="#fff" stroke="#000" stroke-width="1.1" stroke-linejoin="miter"/>
<polygon points="666.60,382.71 664.10,378.36 669.10,378.36" fill="#fff" stroke="#000" stroke-width="1.1" stroke-linejoin="miter"/>
<polygon points="666.60,395.41 664.10,391.06 669.10,391.06" fill="#fff" stroke="#000" stroke-width="1.1" stroke-linejoin="miter"/>
<polygon points="657.50,446.21 655.00,441.86 660.00,441.86" fill="#fff" stroke="#000" stroke-width="1.1" stroke-linejoin="miter"/>
<polygon points="666.60,446.21 664.10,441.86 669.10,441.86" fill="#fff" stroke="#000" stroke-width="1.1" stroke-linejoin="miter"/>
<polygon points="676.10,446.21 673.60,441.86 678.60,441.86" fill="#fff" stroke="#000" stroke-width="1.1" stroke-linejoin="miter"/>
<line x1="578.80" y1="357.10" x2="666.60" y2="357.10" stroke="#000" stroke-width="1.2"/>
<text x="620.50" y="353.00" font-size="10.1" font-weight="normal" text-anchor="middle" fill="#181818" >0.001</text>
<line x1="578.80" y1="392.00" x2="637.40" y2="392.00" stroke="#000" stroke-width="1.2"/>
<text x="611.60" y="387.00" font-size="10.1" font-weight="normal" text-anchor="middle" fill="#181818" >0.013</text>
<text x="620.60" y="323.80" font-size="11.8" font-weight="bold" text-anchor="middle" fill="#000" >MLN</text>
<text transform="translate(540.80,418.20) rotate(-90)" font-size="10.3" font-weight="bold" text-anchor="middle">log<tspan font-size="80%" dy="2.0">10</tspan><tspan dy="-2.0"> CFU/g mLN</tspan></text>
<text transform="translate(580.90,507.00) rotate(-45)" font-size="9.6" text-anchor="end"><tspan font-style="italic">Irf1</tspan><tspan font-size="6.3" dy="-3.8">fl/fl</tspan></text>
<text transform="translate(610.50,507.00) rotate(-45)" font-size="9.6" text-anchor="end"><tspan font-style="italic">Irf1</tspan><tspan font-size="6.3" dy="-3.8">&#916;IEC</tspan></text>
<text transform="translate(639.90,507.00) rotate(-45)" font-size="9.6" text-anchor="end"><tspan font-style="italic">Irf1</tspan><tspan font-size="6.3" dy="-3.8">&#916;Tie2</tspan></text>
<text transform="translate(669.20,507.00) rotate(-45)" font-size="9.6" text-anchor="end"><tspan font-style="italic">Irf1</tspan><tspan font-size="6.3" dy="-3.8">-/-</tspan></text>
<line x1="75.10" y1="602.75" x2="75.10" y2="743.95" stroke="#000" stroke-width="1.3"/>
<line x1="70.10" y1="743.30" x2="75.10" y2="743.30" stroke="#000" stroke-width="1.3"/>
<text x="68.90" y="746.50" font-size="8.9" font-weight="bold" text-anchor="end" fill="#000" >0</text>
<line x1="70.10" y1="715.32" x2="75.10" y2="715.32" stroke="#000" stroke-width="1.3"/>
<text x="68.90" y="718.52" font-size="8.9" font-weight="bold" text-anchor="end" fill="#000" >1</text>
<line x1="70.10" y1="687.34" x2="75.10" y2="687.34" stroke="#000" stroke-width="1.3"/>
<text x="68.90" y="690.54" font-size="8.9" font-weight="bold" text-anchor="end" fill="#000" >2</text>
<line x1="70.10" y1="659.36" x2="75.10" y2="659.36" stroke="#000" stroke-width="1.3"/>
<text x="68.90" y="662.56" font-size="8.9" font-weight="bold" text-anchor="end" fill="#000" >3</text>
<line x1="70.10" y1="631.38" x2="75.10" y2="631.38" stroke="#000" stroke-width="1.3"/>
<text x="68.90" y="634.58" font-size="8.9" font-weight="bold" text-anchor="end" fill="#000" >4</text>
<line x1="70.10" y1="603.40" x2="75.10" y2="603.40" stroke="#000" stroke-width="1.3"/>
<text x="68.90" y="606.60" font-size="8.9" font-weight="bold" text-anchor="end" fill="#000" >5</text>
<line x1="74.45" y1="743.30" x2="133.40" y2="743.30" stroke="#000" stroke-width="1.3"/>
<line x1="90.50" y1="743.30" x2="90.50" y2="746.90" stroke="#000" stroke-width="1.3"/>
<line x1="117.30" y1="743.30" x2="117.30" y2="746.90" stroke="#000" stroke-width="1.3"/>
<line x1="117.30" y1="631.80" x2="117.30" y2="636.20" stroke="#000" stroke-width="1.3"/>
<line x1="112.15" y1="631.80" x2="122.45" y2="631.80" stroke="#000" stroke-width="1.3"/>
<rect x="107.00" y="636.20" width="20.60" height="107.10" fill="#a0044c" stroke="#000" stroke-width="1.3"/>
<rect x="114.80" y="622.00" width="4.6" height="4.6" fill="#fff" stroke="#000" stroke-width="1.1"/>
<rect x="110.30" y="627.90" width="4.6" height="4.6" fill="#fff" stroke="#000" stroke-width="1.1"/>
<rect x="119.20" y="631.90" width="4.6" height="4.6" fill="#fff" stroke="#000" stroke-width="1.1"/>
<rect x="114.80" y="637.50" width="4.6" height="4.6" fill="#fff" stroke="#000" stroke-width="1.1"/>
<rect x="109.90" y="741.00" width="4.6" height="4.6" fill="#fff" stroke="#000" stroke-width="1.1"/>
<rect x="119.20" y="741.00" width="4.6" height="4.6" fill="#fff" stroke="#000" stroke-width="1.1"/>
<circle cx="82.50" cy="743.30" r="2.55" fill="#fff" stroke="#000" stroke-width="1.1"/>
<circle cx="86.50" cy="743.30" r="2.55" fill="#fff" stroke="#000" stroke-width="1.1"/>
<circle cx="90.50" cy="743.30" r="2.55" fill="#fff" stroke="#000" stroke-width="1.1"/>
<circle cx="94.50" cy="743.30" r="2.55" fill="#fff" stroke="#000" stroke-width="1.1"/>
<circle cx="98.50" cy="743.30" r="2.55" fill="#fff" stroke="#000" stroke-width="1.1"/>
<text x="105.10" y="591.90" font-size="11.5" font-weight="bold" text-anchor="middle" fill="#000" >Liver</text>
<text transform="translate(56.40,672.60) rotate(-90)" font-size="9.65" font-weight="bold" text-anchor="middle">log<tspan font-size="80%" dy="2.0">10</tspan><tspan dy="-2.0"> CFU/g liver</tspan></text>
<text transform="translate(93.40,756.70) rotate(-45)" font-size="8.9" text-anchor="end"><tspan font-style="italic">Irf1</tspan><tspan font-size="6.6" dy="-3.8">fl/wt</tspan><tspan dy="3.8" dx="1.0" font-weight="bold">x Tie2cre</tspan><tspan font-size="6.0" dy="-3.8">+</tspan></text>
<text transform="translate(120.20,756.70) rotate(-45)" font-size="8.9" text-anchor="end"><tspan font-style="italic">Irf1</tspan><tspan font-size="6.6" dy="-3.8">fl/fl</tspan><tspan dy="3.8" dx="1.0" font-weight="bold">x Tie2cre</tspan><tspan font-size="6.0" dy="-3.8">+</tspan></text>
<line x1="194.80" y1="602.75" x2="194.80" y2="743.95" stroke="#000" stroke-width="1.3"/>
<line x1="189.80" y1="743.30" x2="194.80" y2="743.30" stroke="#000" stroke-width="1.3"/>
<text x="188.60" y="746.50" font-size="8.9" font-weight="bold" text-anchor="end" fill="#000" >0</text>
<line x1="189.80" y1="715.32" x2="194.80" y2="715.32" stroke="#000" stroke-width="1.3"/>
<text x="188.60" y="718.52" font-size="8.9" font-weight="bold" text-anchor="end" fill="#000" >1</text>
<line x1="189.80" y1="687.34" x2="194.80" y2="687.34" stroke="#000" stroke-width="1.3"/>
<text x="188.60" y="690.54" font-size="8.9" font-weight="bold" text-anchor="end" fill="#000" >2</text>
<line x1="189.80" y1="659.36" x2="194.80" y2="659.36" stroke="#000" stroke-width="1.3"/>
<text x="188.60" y="662.56" font-size="8.9" font-weight="bold" text-anchor="end" fill="#000" >3</text>
<line x1="189.80" y1="631.38" x2="194.80" y2="631.38" stroke="#000" stroke-width="1.3"/>
<text x="188.60" y="634.58" font-size="8.9" font-weight="bold" text-anchor="end" fill="#000" >4</text>
<line x1="189.80" y1="603.40" x2="194.80" y2="603.40" stroke="#000" stroke-width="1.3"/>
<text x="188.60" y="606.60" font-size="8.9" font-weight="bold" text-anchor="end" fill="#000" >5</text>
<line x1="194.15" y1="743.30" x2="253.00" y2="743.30" stroke="#000" stroke-width="1.3"/>
<line x1="209.85" y1="743.30" x2="209.85" y2="746.90" stroke="#000" stroke-width="1.3"/>
<line x1="236.75" y1="743.30" x2="236.75" y2="746.90" stroke="#000" stroke-width="1.3"/>
<line x1="236.75" y1="636.80" x2="236.75" y2="641.40" stroke="#000" stroke-width="1.3"/>
<line x1="231.68" y1="636.80" x2="241.82" y2="636.80" stroke="#000" stroke-width="1.3"/>
<rect x="226.60" y="641.40" width="20.30" height="101.90" fill="#a0044c" stroke="#000" stroke-width="1.3"/>
<rect x="234.40" y="625.50" width="4.6" height="4.6" fill="#fff" stroke="#000" stroke-width="1.1"/>
<rect x="234.40" y="633.10" width="4.6" height="4.6" fill="#fff" stroke="#000" stroke-width="1.1"/>
<rect x="234.40" y="639.80" width="4.6" height="4.6" fill="#fff" stroke="#000" stroke-width="1.1"/>
<rect x="234.40" y="646.40" width="4.6" height="4.6" fill="#fff" stroke="#000" stroke-width="1.1"/>
<rect x="229.70" y="741.00" width="4.6" height="4.6" fill="#fff" stroke="#000" stroke-width="1.1"/>
<rect x="239.00" y="741.00" width="4.6" height="4.6" fill="#fff" stroke="#000" stroke-width="1.1"/>
<circle cx="201.85" cy="743.30" r="2.55" fill="#fff" stroke="#000" stroke-width="1.1"/>
<circle cx="205.85" cy="743.30" r="2.55" fill="#fff" stroke="#000" stroke-width="1.1"/>
<circle cx="209.85" cy="743.30" r="2.55" fill="#fff" stroke="#000" stroke-width="1.1"/>
<circle cx="213.85" cy="743.30" r="2.55" fill="#fff" stroke="#000" stroke-width="1.1"/>
<circle cx="217.85" cy="743.30" r="2.55" fill="#fff" stroke="#000" stroke-width="1.1"/>
<text x="225.70" y="591.90" font-size="11.5" font-weight="bold" text-anchor="middle" fill="#000" >Spleen</text>
<text transform="translate(176.40,672.60) rotate(-90)" font-size="9.65" font-weight="bold" text-anchor="middle">log<tspan font-size="80%" dy="2.0">10</tspan><tspan dy="-2.0"> CFU/g spleen</tspan></text>
<text transform="translate(212.75,756.70) rotate(-45)" font-size="8.9" text-anchor="end"><tspan font-style="italic">Irf1</tspan><tspan font-size="6.6" dy="-3.8">fl/wt</tspan><tspan dy="3.8" dx="1.0" font-weight="bold">x Tie2cre</tspan><tspan font-size="6.0" dy="-3.8">+</tspan></text>
<text transform="translate(239.65,756.70) rotate(-45)" font-size="8.9" text-anchor="end"><tspan font-style="italic">Irf1</tspan><tspan font-size="6.6" dy="-3.8">fl/fl</tspan><tspan dy="3.8" dx="1.0" font-weight="bold">x Tie2cre</tspan><tspan font-size="6.0" dy="-3.8">+</tspan></text>
<line x1="314.80" y1="609.55" x2="314.80" y2="746.05" stroke="#000" stroke-width="1.3"/>
<line x1="309.80" y1="745.40" x2="314.80" y2="745.40" stroke="#000" stroke-width="1.3"/>
<text x="308.60" y="748.60" font-size="8.9" font-weight="bold" text-anchor="end" fill="#000" >0</text>
<line x1="309.80" y1="718.36" x2="314.80" y2="718.36" stroke="#000" stroke-width="1.3"/>
<text x="308.60" y="721.56" font-size="8.9" font-weight="bold" text-anchor="end" fill="#000" >1</text>
<line x1="309.80" y1="691.32" x2="314.80" y2="691.32" stroke="#000" stroke-width="1.3"/>
<text x="308.60" y="694.52" font-size="8.9" font-weight="bold" text-anchor="end" fill="#000" >2</text>
<line x1="309.80" y1="664.28" x2="314.80" y2="664.28" stroke="#000" stroke-width="1.3"/>
<text x="308.60" y="667.48" font-size="8.9" font-weight="bold" text-anchor="end" fill="#000" >3</text>
<line x1="309.80" y1="637.24" x2="314.80" y2="637.24" stroke="#000" stroke-width="1.3"/>
<text x="308.60" y="640.44" font-size="8.9" font-weight="bold" text-anchor="end" fill="#000" >4</text>
<line x1="309.80" y1="610.20" x2="314.80" y2="610.20" stroke="#000" stroke-width="1.3"/>
<text x="308.60" y="613.40" font-size="8.9" font-weight="bold" text-anchor="end" fill="#000" >5</text>
<line x1="314.15" y1="745.40" x2="370.60" y2="745.40" stroke="#000" stroke-width="1.3"/>
<line x1="329.90" y1="745.40" x2="329.90" y2="749.00" stroke="#000" stroke-width="1.3"/>
<line x1="355.25" y1="745.40" x2="355.25" y2="749.00" stroke="#000" stroke-width="1.3"/>
<line x1="329.90" y1="693.60" x2="329.90" y2="702.40" stroke="#000" stroke-width="1.3"/>
<line x1="325.05" y1="693.60" x2="334.75" y2="693.60" stroke="#000" stroke-width="1.3"/>
<rect x="320.20" y="702.40" width="19.40" height="43.00" fill="#d9d9d9" stroke="#000" stroke-width="1.3"/>
<line x1="355.25" y1="637.70" x2="355.25" y2="643.80" stroke="#000" stroke-width="1.3"/>
<line x1="350.38" y1="637.70" x2="360.12" y2="637.70" stroke="#000" stroke-width="1.3"/>
<rect x="345.50" y="643.80" width="19.50" height="101.60" fill="#a0044c" stroke="#000" stroke-width="1.3"/>
<circle cx="329.70" cy="682.90" r="2.3" fill="#fff" stroke="#000" stroke-width="1.1"/>
<rect x="353.20" y="624.20" width="4.6" height="4.6" fill="#fff" stroke="#000" stroke-width="1.1"/>
<rect x="353.20" y="640.30" width="4.6" height="4.6" fill="#fff" stroke="#000" stroke-width="1.1"/>
<rect x="353.20" y="644.80" width="4.6" height="4.6" fill="#fff" stroke="#000" stroke-width="1.1"/>
<rect x="353.20" y="672.80" width="4.6" height="4.6" fill="#fff" stroke="#000" stroke-width="1.1"/>
<rect x="353.20" y="680.60" width="4.6" height="4.6" fill="#fff" stroke="#000" stroke-width="1.1"/>
<rect x="353.20" y="743.10" width="4.6" height="4.6" fill="#fff" stroke="#000" stroke-width="1.1"/>
<circle cx="322.40" cy="745.40" r="2.55" fill="#fff" stroke="#000" stroke-width="1.1"/>
<circle cx="327.40" cy="745.40" r="2.55" fill="#fff" stroke="#000" stroke-width="1.1"/>
<circle cx="332.40" cy="745.40" r="2.55" fill="#fff" stroke="#000" stroke-width="1.1"/>
<circle cx="337.40" cy="745.40" r="2.55" fill="#fff" stroke="#000" stroke-width="1.1"/>
<polyline points="329.70,675.10 329.70,612.90 355.40,612.90 355.40,619.10" fill="none" stroke="#000" stroke-width="1.1"/>
<text x="342.50" y="608.00" font-size="10.1" font-weight="normal" text-anchor="middle" fill="#181818" >0.0325</text>
<text x="341.80" y="593.00" font-size="11.5" font-weight="bold" text-anchor="middle" fill="#000" >MLN</text>
<text transform="translate(296.10,677.10) rotate(-90)" font-size="9.5" font-weight="bold" text-anchor="middle">log<tspan font-size="80%" dy="2.0">10</tspan><tspan dy="-2.0"> CFU/g mLN</tspan></text>
<text transform="translate(332.80,758.80) rotate(-45)" font-size="8.9" text-anchor="end"><tspan font-style="italic">Irf1</tspan><tspan font-size="6.6" dy="-3.8">fl/wt</tspan><tspan dy="3.8" dx="1.0" font-weight="bold">x Tie2cre</tspan><tspan font-size="6.0" dy="-3.8">+</tspan></text>
<text transform="translate(358.15,758.80) rotate(-45)" font-size="8.9" text-anchor="end"><tspan font-style="italic">Irf1</tspan><tspan font-size="6.6" dy="-3.8">fl/fl</tspan><tspan dy="3.8" dx="1.0" font-weight="bold">x Tie2cre</tspan><tspan font-size="6.0" dy="-3.8">+</tspan></text>
</svg>
</body></html>
